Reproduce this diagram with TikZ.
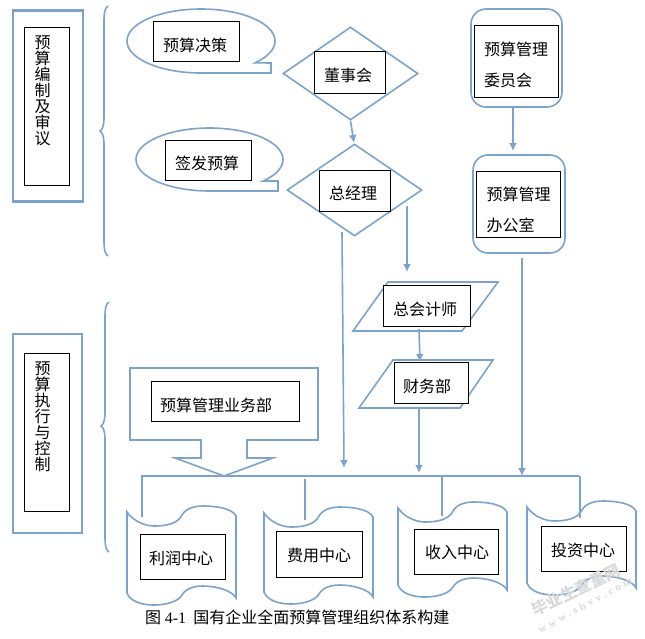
\documentclass[tikz,border=0pt]{standalone}
\usepackage{fontspec}
\setmainfont{Liberation Serif}
\newfontfamily\cjk{Noto Sans CJK SC}
\usetikzlibrary{shapes.geometric,arrows.meta}
\definecolor{azzurro}{HTML}{7BA3CB}
\tikzset{
  linea/.style={draw=azzurro, line width=1.6pt},
  gamba/.style={draw=azzurro, line width=2.2pt},
  freccia/.style={linea, -{Latex[length=8pt,width=8pt]}},
  bordo/.style={draw=azzurro, line width=2.8pt, minimum width=#1},
  tondo/.style={linea, rectangle, rounded corners=15pt, minimum width=#1},
  casella/.style n args={3}{draw, fill=white, line width=0.8pt, inner ysep=0pt, inner xsep=#3pt,
    text width=#1pt-2*#3pt, minimum height=#2pt, align=left, font=\cjk\fontsize{16pt}{16pt}\selectfont},
  giu/.style={text depth=0pt, text height=#1pt},
  rombo/.style={diamond, linea, inner sep=0pt},
  nastro/.pic={
    \draw [linea] (0,0) .. controls (6,9) and (18,14) .. (27,14) .. controls (38,14) and (51,12) .. (55,3)
      .. controls (59,-4) and (68,-6) .. (76,-6) .. controls (88,-6) and (105,-4) .. (109,4)
      -- (109,#1+5) .. controls (105,#1-3) and (88,#1-7) .. (76,#1-7) .. controls (68,#1-7) and (59,#1-5) .. (55,#1+2)
      .. controls (51,#1+9) and (38,#1+12) .. (27,#1+12) .. controls (14,#1+12) and (3,#1+8) .. (0,#1) -- cycle;
  },
  filigrana/.style={text=black!15, inner sep=0pt}
}
\begin{document}
\begin{tikzpicture}[x=1pt, y=-1pt]
  \useasboundingbox (0,0) rectangle (645,638);

  \node [bordo=70pt, rectangle, minimum height=191pt] (outer1) at (48,106) {};
  \node [casella={45}{158}{10.5}] (inner1) at (46.5,106) {预\\算\\编\\制\\及\\审\\议\\~\\~};
  \node [bordo=69pt, rectangle, minimum height=199pt] (outer2) at (47.5,433.5) {};
  \node [casella={45}{158}{10.5}] (inner2) at (46.5,432) {预\\算\\执\\行\\与\\控\\制\\~\\~};

  \draw [linea] (108,6) .. controls (105,8) and (104,12) .. (104,22) -- (104,118)
    .. controls (104,126) and (102,130) .. (100,131) .. controls (102,132) and (104,136) .. (104,144)
    -- (104,240) .. controls (104,250) and (105,254) .. (108,256);
  \draw [linea] (109,302) .. controls (106,304) and (105,308) .. (105,318) -- (105,413)
    .. controls (105,421) and (103,425) .. (101,426) .. controls (103,427) and (105,431) .. (105,439)
    -- (105,536) .. controls (105,546) and (106,550) .. (109,552);

  \draw [linea] (271,73) -- (201,73) arc [start angle=270, end angle=-43, x radius=74pt, y radius=32pt]
    -- (271,63) -- cycle;
  \node [casella={86}{40}{10}, giu=20] (decision) at (196,41) {预算决策};
  \draw [linea] (278,191) -- (209.5,191) arc [start angle=270, end angle=-43, x radius=73.5pt, y radius=31.5pt]
    -- (278,181) -- cycle;
  \node [casella={86}{40}{10}, giu=19] (issue) at (208,160) {签发预算};

  \node [rombo, minimum width=135pt, minimum height=93pt] (diamond1) at (350.5,73.5) {};
  \node [casella={71}{42}{10}, giu=18] (board) at (349.5,72) {董事会};
  \node [rombo, minimum width=135pt, minimum height=92pt] (diamond2) at (354.5,190) {};
  \node [casella={71}{41}{10}, giu=17] (manager) at (354.5,190.5) {总经理};

  \node [tondo=91pt, minimum height=98pt] (round1) at (516.5,58) {};
  \node [casella={84}{72}{10}] (committee) at (516,61) {\rule{0pt}{21pt}预算管理\\[15pt]委员会};
  \node [tondo=92pt, minimum height=98pt] (round2) at (519,204) {};
  \node [casella={84}{66}{10.5}] (office) at (518,204) {\rule{0pt}{25pt}预算管理\\[15pt]办公室};

  \draw [linea] (388,282) -- (498,282) -- (462,331) -- (353,331) -- cycle;
  \node [casella={87}{41}{10}, giu=19] (accountant) at (426.5,305.5) {总会计师};
  \draw [linea] (393,360) -- (493,360) -- (460,408) -- (359,408) -- cycle;
  \node [casella={74}{41}{9}, giu=19] (finance) at (431,382.5) {财务部};

  \draw [linea] (130,368) -- (318,368) -- (318,440) -- (247,440) -- (247,458) -- (273,458)
    -- (224,476) -- (175,458) -- (201,458) -- (201,440) -- (130,440) -- cycle;
  \node [casella={148}{40}{9}, giu=20] (business) at (225,401) {预算管理业务部};

  \pic at (127,512) {nastro=81};
  \node [casella={85}{45}{9}, giu=15] (profit) at (182.5,556.5) {利润中心};
  \pic at (264,513) {nastro=79};
  \node [casella={86}{46}{11}, giu=14] (cost) at (319,554) {费用中心};
  \pic at (398,508) {nastro=77};
  \node [casella={84}{45}{11}, giu=13] (income) at (456,551.5) {收入中心};
  \pic at (527,507) {nastro=76};
  \node [casella={85}{45}{10}, giu=15] (invest) at (583.5,548.5) {投资中心};

  \coordinate (bus1) at (141,476);
  \coordinate (bus2) at (579,476);
  \coordinate (end1) at (354,143);
  \coordinate (start2) at (407,206);
  \coordinate (end2) at (407,272);
  \coordinate (start3) at (342,232);
  \coordinate (end3) at (344,468);
  \coordinate (end4) at (513,151);
  \coordinate (start5) at (522,258);
  \coordinate (end5) at (522,476);
  \coordinate (start6) at (419,329);
  \coordinate (end6) at (420,362);
  \coordinate (start7) at (419,408);
  \coordinate (end7) at (419,473);
  \coordinate (top2) at (305,479);
  \coordinate (leg1) at (142,517);
  \coordinate (leg2) at (305,520);
  \coordinate (leg3) at (442,516);
  \coordinate (leg4) at (580,518);

  \draw [linea] (bus1) -- (bus2);
  \draw [gamba] (bus1 -| leg1) -- (leg1);
  \draw [gamba] (top2) -- (leg2);
  \draw [gamba] (bus1 -| leg3) -- (leg3);
  \draw [gamba] (bus1 -| leg4) -- (leg4);

  \draw [freccia] (diamond1.south) -- (end1);
  \draw [freccia] (start2) -- (end2);
  \draw [freccia] (start3) -- (end3);
  \draw [freccia] (round1.south -| end4) -- (end4);
  \draw [freccia] (start5) -- (end5);
  \draw [freccia] (start6) -- (end6);
  \draw [freccia] (start7) -- (end7);

  \node [font=\cjk\fontsize{16pt}{16pt}\selectfont, inner sep=0pt, anchor=west] (caption) at (145,617)
    {图 {\rmfamily 4-1} \ 国有企业全面预算管理组织体系构建};
  \node [filigrana, font=\cjk\bfseries\fontsize{16pt}{16pt}\selectfont, rotate=26] (mark1) at (576,590) {毕业生查重网};
  \node [filigrana, font=\bfseries\fontsize{11pt}{11pt}\selectfont\addfontfeature{LetterSpace=30}, rotate=29] (mark2) at (585,605) {www.sbvv.com};
\end{tikzpicture}
\end{document}
